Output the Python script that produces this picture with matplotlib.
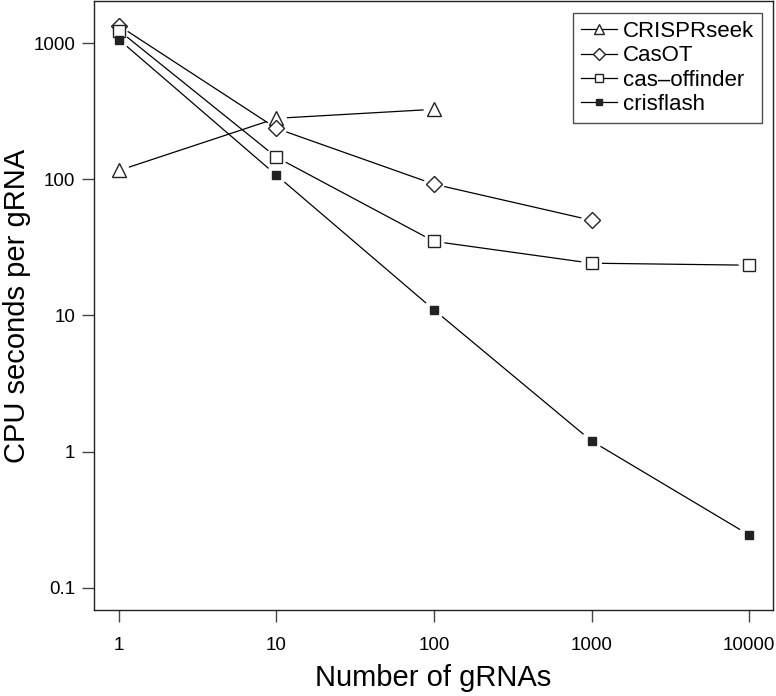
import numpy as np
import matplotlib.pyplot as plt
from matplotlib.lines import Line2D

plt.rcParams['font.family'] = ['Liberation Sans', 'DejaVu Sans']
plt.rcParams['xtick.labelsize'] = 13.5
plt.rcParams['ytick.labelsize'] = 13.5

# valores
n_grnas = [1, 10, 100, 1000, 10000]
crisprseek = [116, 280, 326]
casot = [1340, 236, 92, 50]
cas_offinder = [1235, 145, 35, 24.2, 23.4]
crisflash = [1060, 107, 11.0, 1.2, 0.245]
x_ticks = [1, 10, 100, 1000, 10000]
y_ticks = [0.1, 1, 10, 100, 1000]

series = [
    ('CRISPRseek', crisprseek, dict(marker='^', markersize=10, markerfacecolor='white')),
    ('CasOT', casot, dict(marker='D', markersize=8.5, markerfacecolor='white')),
    ('cas\u2013offinder', cas_offinder, dict(marker='s', markersize=8, markerfacecolor='white')),
    ('crisflash', crisflash, dict(marker='s', markersize=6, markerfacecolor='#222222')),
]

fig = plt.figure(figsize=(7.76, 6.96), dpi=100)
ax = fig.add_axes([94 / 776, 86 / 696, 679 / 776, 609 / 696])
ax.set_xscale('log')
ax.set_yscale('log')
ax.set_xlim(0.694, 14200)
ax.set_ylim(0.0689, 2034)

gap = 11  # pixels, como no type="b" do R


def linha_com_gaps(xs, ys):
    pts = ax.transData.transform(np.column_stack([xs, ys]))
    for i in range(len(pts) - 1):
        a, b = pts[i], pts[i + 1]
        d = b - a
        dist = np.hypot(*d)
        if dist <= 2 * gap:
            continue
        u = d / dist
        seg = np.array([a + u * gap, b - u * gap])
        seg = ax.transData.inverted().transform(seg)
        ax.plot(seg[:, 0], seg[:, 1], color='black', lw=0.9)


handles = []
for nome, vals, estilo in series:
    xs = n_grnas[:len(vals)]
    linha_com_gaps(xs, vals)
    ax.plot(xs, vals, linestyle='none', markeredgecolor='#222222',
            markeredgewidth=1.0, **estilo)
    handles.append(Line2D([], [], color='black', lw=0.9, markeredgecolor='#222222',
                          markeredgewidth=1.0, label=nome,
                          **{k: (v * 0.75 if k == 'markersize' else v) for k, v in estilo.items()}))

ax.minorticks_off()
ax.set_xticks(x_ticks)
ax.set_xticklabels([str(v) for v in x_ticks])
ax.set_yticks(y_ticks)
ax.set_yticklabels(['0.1', '1', '10', '100', '1000'])
ax.minorticks_off()
ax.tick_params(axis='both', which='major', length=8.5, width=1, color='#444444',
               labelsize=13.5)
ax.tick_params(axis='x', pad=11)
ax.tick_params(axis='y', pad=5)
for s in ax.spines.values():
    s.set_color('#222222')
    s.set_linewidth(1.0)

ax.set_xlabel('Number of gRNAs', fontsize=21)
ax.set_ylabel('CPU seconds per gRNA', fontsize=21)
ax.xaxis.set_label_coords(0.5, -0.088)
ax.yaxis.set_label_coords(-0.093, 0.5)

leg = ax.legend(handles=handles, loc='upper right', bbox_to_anchor=(0.984, 0.980),
                borderaxespad=0, fontsize=16, frameon=True, fancybox=False,
                handlelength=1.6, handletextpad=0.3, labelspacing=0.15,
                borderpad=0.35, numpoints=1)
leg.get_frame().set_edgecolor('#222222')
leg.get_frame().set_linewidth(1.0)

fig.canvas.draw()
for t in ax.get_xticklabels() + ax.get_yticklabels():
    t.set_fontsize(13.5)

fig.savefig('out.png', dpi=100)
